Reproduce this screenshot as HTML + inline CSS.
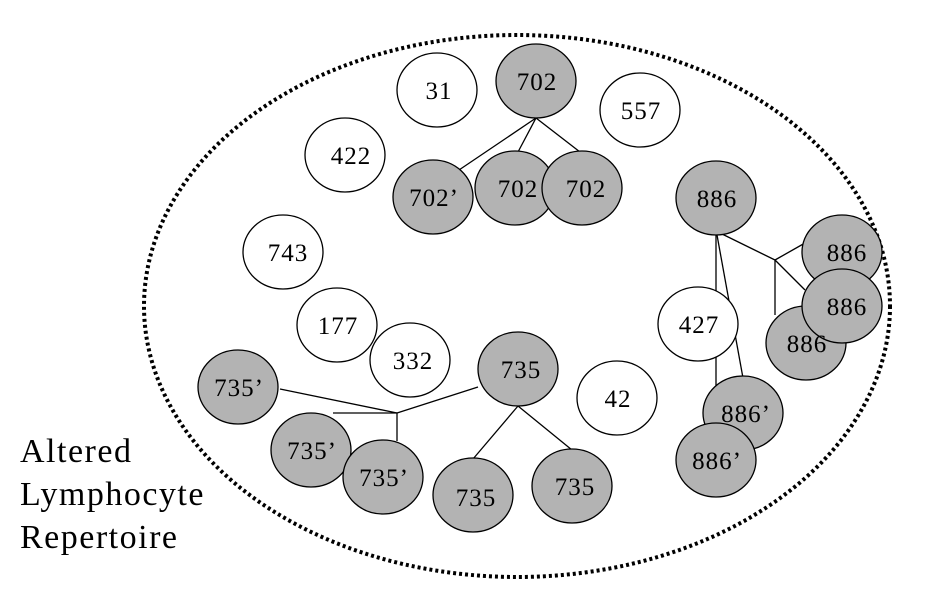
<!DOCTYPE html>
<html><head><style>body{margin:0;background:#fff}svg{display:block}</style></head><body>
<svg width="925" height="593" viewBox="0 0 925 593" font-family="Liberation Serif, serif">
<ellipse cx="517" cy="306" rx="373" ry="271" fill="none" stroke="#000" stroke-width="4" stroke-dasharray="3 3"/>
<g stroke="#000" stroke-width="1.3" fill="none">
<line x1="536" y1="118" x2="459" y2="170"/><line x1="536" y1="118" x2="518" y2="152"/><line x1="536" y1="118" x2="580" y2="152"/>
<line x1="280" y1="389" x2="397" y2="413"/><line x1="478" y1="387" x2="397" y2="413"/><line x1="333" y1="413" x2="397" y2="413"/><line x1="397" y1="413" x2="397" y2="441"/>
<line x1="518" y1="406" x2="473" y2="459"/><line x1="518" y1="406" x2="572" y2="450"/>
<line x1="716" y1="235" x2="716" y2="390"/><line x1="717" y1="235" x2="743" y2="378"/>
<line x1="720" y1="233" x2="775" y2="260"/><line x1="775" y1="260" x2="805" y2="243"/><line x1="775" y1="260" x2="805" y2="290"/><line x1="775" y1="260" x2="775" y2="315"/>
</g>
<g stroke="#000" stroke-width="1.3" font-size="25" letter-spacing="1" text-anchor="middle">
<g fill="#fff">
<ellipse cx="437" cy="90" rx="40" ry="37"/><ellipse cx="640" cy="110" rx="40" ry="37"/><ellipse cx="345" cy="155" rx="40" ry="37"/>
<ellipse cx="283" cy="252" rx="40" ry="37"/><ellipse cx="337" cy="325" rx="40" ry="37"/><ellipse cx="410" cy="360" rx="40" ry="37"/>
<ellipse cx="617" cy="398" rx="40" ry="37"/><ellipse cx="698" cy="324" rx="40" ry="37"/>
</g>
<g fill="#b3b3b3">
<ellipse cx="536" cy="81" rx="40" ry="37"/><ellipse cx="433" cy="197" rx="40" ry="37"/><ellipse cx="515" cy="188" rx="40" ry="37"/><ellipse cx="582" cy="188" rx="40" ry="37"/>
<ellipse cx="518" cy="369" rx="40" ry="37"/><ellipse cx="238" cy="387" rx="40" ry="37"/><ellipse cx="311" cy="450" rx="40" ry="37"/><ellipse cx="383" cy="477" rx="40" ry="37"/>
<ellipse cx="473" cy="495" rx="40" ry="37"/><ellipse cx="572" cy="486" rx="40" ry="37"/>
<ellipse cx="716" cy="198" rx="40" ry="37"/><ellipse cx="842" cy="252" rx="40" ry="37"/><ellipse cx="806" cy="343" rx="40" ry="37"/><ellipse cx="842" cy="306" rx="40" ry="37"/>
<ellipse cx="743" cy="413" rx="40" ry="37"/><ellipse cx="716" cy="460" rx="40" ry="37"/>
</g>
<g stroke="none" fill="#000">
<text x="439" y="99">31</text><text x="641" y="119">557</text><text x="351" y="164">422</text><text x="288" y="261">743</text>
<text x="338" y="334">177</text><text x="413" y="369">332</text><text x="618" y="407">42</text><text x="699" y="333">427</text>
<text x="537" y="90">702</text><text x="434" y="206">702’</text><text x="518" y="197">702</text><text x="586" y="197">702</text>
<text x="521" y="378">735</text><text x="239" y="396">735’</text><text x="312" y="459">735’</text><text x="384" y="486">735’</text>
<text x="476" y="506">735</text><text x="575" y="495">735</text>
<text x="717" y="207">886</text><text x="847" y="261">886</text><text x="807" y="352">886</text><text x="847" y="315">886</text>
<text x="746" y="422">886’</text><text x="717" y="469">886’</text>
</g>
</g>
<g font-size="34" letter-spacing="1.5" fill="#000">
<text x="20" y="462">Altered</text><text x="20" y="505">Lymphocyte</text><text x="20" y="548">Repertoire</text>
</g>
</svg>
</body></html>
